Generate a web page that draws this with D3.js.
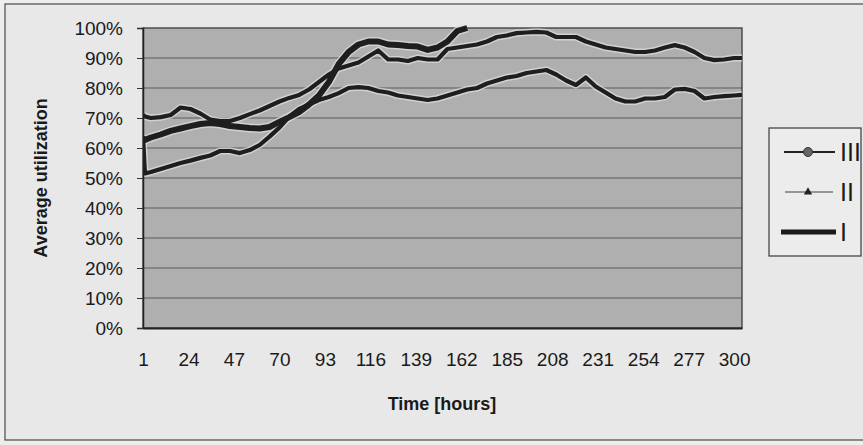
<!DOCTYPE html>
<html>
<head>
<meta charset="utf-8">
<script src="https://cdn.jsdelivr.net/npm/d3@7"></script>
<style>
  html, body { margin: 0; padding: 0; background: #ededed; }
  svg { display: block; }
  text { font-family: "Liberation Sans", Arial, sans-serif; fill: #1a1a1a; }
</style>
</head>
<body>
<svg id="chart" width="863" height="445"></svg>
<script>
// Simulation time stamps (hours)
const hours = [1, 2, 5, 10, 15, 20, 25, 30, 35, 40, 45, 50, 55, 60, 65, 70, 75, 80, 85, 90,
  95, 100, 105, 110, 115, 120, 125, 130, 135, 140, 145, 150, 155, 160, 165, 170, 175, 180, 185, 190,
  195, 200, 205, 210, 215, 220, 225, 230, 235, 240, 245, 250, 255, 260, 265, 270, 275, 280, 285, 290,
  295, 300, 304];

// Average utilization (%) per variant
const seriesIII = [71, 70.5, 70, 70.3, 71, 73.5, 73, 71.5, 69.5, 69,
  69, 70, 71.3, 72.5, 74, 75.5, 76.7, 77.7, 79.5, 82,
  84.5, 86.5, 87.5, 88.5, 90.5, 92.5, 89.5, 89.5, 89, 90,
  89.5, 89.5, 93, 93.5, 94, 94.5, 95.5, 97, 97.5, 98.3,
  98.5, 98.7, 98.5, 97, 97, 97, 95.5, 94.5, 93.5, 93,
  92.5, 92, 92, 92.5, 93.5, 94.3, 93.5, 92, 90, 89.3,
  89.5, 90, 90];

const seriesII = [64, 51.5, 52, 53, 54, 55, 55.8, 56.7, 57.5, 59,
  59, 58.3, 59.3, 61, 63.8, 66.8, 70.5, 73, 74.5, 76,
  77, 78.3, 80, 80.3, 80, 79, 78.5, 77.5, 77, 76.5,
  76, 76.5, 77.5, 78.5, 79.5, 80, 81.5, 82.5, 83.5, 84,
  85, 85.5, 86, 84.5, 82.5, 81, 83.5, 80.5, 78.5, 76.5,
  75.5, 75.5, 76.5, 76.5, 77, 79.5, 79.7, 79, 76.5, 77,
  77.3, 77.5, 77.7];

// Variant I saturates at the 100% ceiling; later readings are not plotted
const seriesI = [62.7, 62.7, 63.5, 64.5, 65.7, 66.5, 67.3, 68, 68.3, 68,
  67.3, 67, 66.7, 66.5, 67, 68.7, 70.3, 72, 74.5, 77.5,
  82, 88, 92, 94.5, 95.5, 95.5, 94.5, 94.3, 94, 93.8,
  92.7, 93.5, 95.5, 99, 100, null, null, null, null, null,
  null, null, null, null, null, null, null, null, null, null,
  null, null, null, null, null, null, null, null, null, null,
  null, null, null];

const xTickLabels = [1, 24, 47, 70, 93, 116, 139, 162, 185, 208, 231, 254, 277, 300];
const yTicks = [0, 10, 20, 30, 40, 50, 60, 70, 80, 90, 100];
const legendNames = ["III", "II", "I"];

const svg = d3.select("#chart");

const plot = { left: 143, right: 742, top: 28, bottom: 328 };

const x = d3.scaleLinear().domain([1, 304]).range([plot.left, plot.right]);
const y = d3.scaleLinear().domain([0, 100]).range([plot.bottom, plot.top]);

// outer chart frame
svg.append("rect")
  .attr("x", 5).attr("y", 4).attr("width", 900).attr("height", 436)
  .attr("fill", "#e8e8e8").attr("stroke", "#4a4a4a").attr("stroke-width", 1.2);

// plot background
svg.append("rect")
  .attr("x", plot.left).attr("y", plot.top)
  .attr("width", plot.right - plot.left).attr("height", plot.bottom - plot.top)
  .attr("fill", "#afafaf");

// horizontal gridlines
svg.append("g").selectAll("line")
  .data(yTicks.filter(d => d > 0 && d < 100))
  .join("line")
  .attr("x1", plot.left).attr("x2", plot.right)
  .attr("y1", d => y(d)).attr("y2", d => y(d))
  .attr("stroke", "#4d4d4d").attr("stroke-width", 1).attr("opacity", 0.85);

// plot border
svg.append("rect")
  .attr("x", plot.left).attr("y", plot.top)
  .attr("width", plot.right - plot.left).attr("height", plot.bottom - plot.top)
  .attr("fill", "none").attr("stroke", "#3a3a3a").attr("stroke-width", 1.3);

svg.append("clipPath").attr("id", "plotClip")
  .append("rect")
  .attr("x", plot.left).attr("y", plot.top - 3)
  .attr("width", plot.right - plot.left).attr("height", plot.bottom - plot.top + 3);

const lineGen = values => d3.line()
  .defined((d, i) => values[i] != null)
  .x((d, i) => x(hours[i]))
  .y((d, i) => y(values[i]))(values);

const series = [
  { name: "III", values: seriesIII, width: 4.2 },
  { name: "II", values: seriesII, width: 4.2 },
  { name: "I", values: seriesI, width: 6 }
];

const lines = svg.append("g").attr("clip-path", "url(#plotClip)");
// light edge under each trace
lines.selectAll("path.halo")
  .data(series)
  .join("path")
  .attr("class", "halo")
  .attr("d", d => lineGen(d.values))
  .attr("fill", "none")
  .attr("stroke", "#dcdcdc")
  .attr("stroke-opacity", 0.75)
  .attr("stroke-width", d => d.width + 3)
  .attr("stroke-linejoin", "round");
lines.selectAll("path.trace")
  .data(series)
  .join("path")
  .attr("class", "trace")
  .attr("d", d => lineGen(d.values))
  .attr("fill", "none")
  .attr("stroke", "#1e1e1e")
  .attr("stroke-width", d => d.width)
  .attr("stroke-linejoin", "round");

// axes
const yAxis = svg.append("g")
  .attr("transform", `translate(${plot.left},0)`)
  .call(d3.axisLeft(y).tickValues(yTicks).tickFormat(d => d + "%").tickSize(6).tickPadding(14));
yAxis.select(".domain").attr("stroke", "#222").attr("stroke-width", 1.5);
yAxis.selectAll(".tick line").attr("stroke", "#333");
yAxis.selectAll("text").style("font-size", "19px").attr("fill", "#1a1a1a");

const xAxis = svg.append("g")
  .attr("transform", `translate(0,${plot.bottom})`)
  .call(d3.axisBottom(x).tickValues(xTickLabels).tickFormat(d3.format("d")).tickSize(0).tickPadding(25));
xAxis.select(".domain").attr("stroke", "#222").attr("stroke-width", 2.2);
xAxis.selectAll("text").style("font-size", "19px").attr("fill", "#1a1a1a");

// axis titles
svg.append("text")
  .attr("transform", "translate(47,178) rotate(-90)")
  .attr("text-anchor", "middle")
  .style("font-size", "18px").style("font-weight", "bold")
  .text("Average utilization");

svg.append("text")
  .attr("x", 442).attr("y", 410)
  .attr("text-anchor", "middle")
  .style("font-size", "18px").style("font-weight", "bold")
  .text("Time [hours]");

// legend
const legend = svg.append("g");
legend.append("rect")
  .attr("x", 769).attr("y", 128).attr("width", 92).attr("height", 128)
  .attr("fill", "#ececec").attr("stroke", "#3a3a3a").attr("stroke-width", 1.2);

const legendY = d3.scalePoint().domain(legendNames).range([152, 232]);

// III: dark line with round marker
legend.append("line")
  .attr("x1", 784).attr("x2", 835)
  .attr("y1", legendY("III")).attr("y2", legendY("III"))
  .attr("stroke", "#222").attr("stroke-width", 2);
legend.append("circle")
  .attr("cx", 808).attr("cy", legendY("III")).attr("r", 4.5)
  .attr("fill", "#666").attr("stroke", "#333").attr("stroke-width", 1);

// II: thin line with small triangle marker
legend.append("line")
  .attr("x1", 785).attr("x2", 833)
  .attr("y1", legendY("II")).attr("y2", legendY("II"))
  .attr("stroke", "#777").attr("stroke-width", 1.5);
legend.append("path")
  .attr("transform", `translate(808,${legendY("II")})`)
  .attr("d", d3.symbol(d3.symbolTriangle, 30)())
  .attr("fill", "#222");

// I: thick line
legend.append("line")
  .attr("x1", 781).attr("x2", 836)
  .attr("y1", legendY("I")).attr("y2", legendY("I"))
  .attr("stroke", "#1a1a1a").attr("stroke-width", 5);

legend.selectAll("text.lbl")
  .data(legendNames)
  .join("text")
  .attr("class", "lbl")
  .attr("x", 840)
  .attr("y", d => legendY(d))
  .attr("dy", "0.36em")
  .style("font-size", "25px")
  .text(d => d);
</script>
</body>
</html>
